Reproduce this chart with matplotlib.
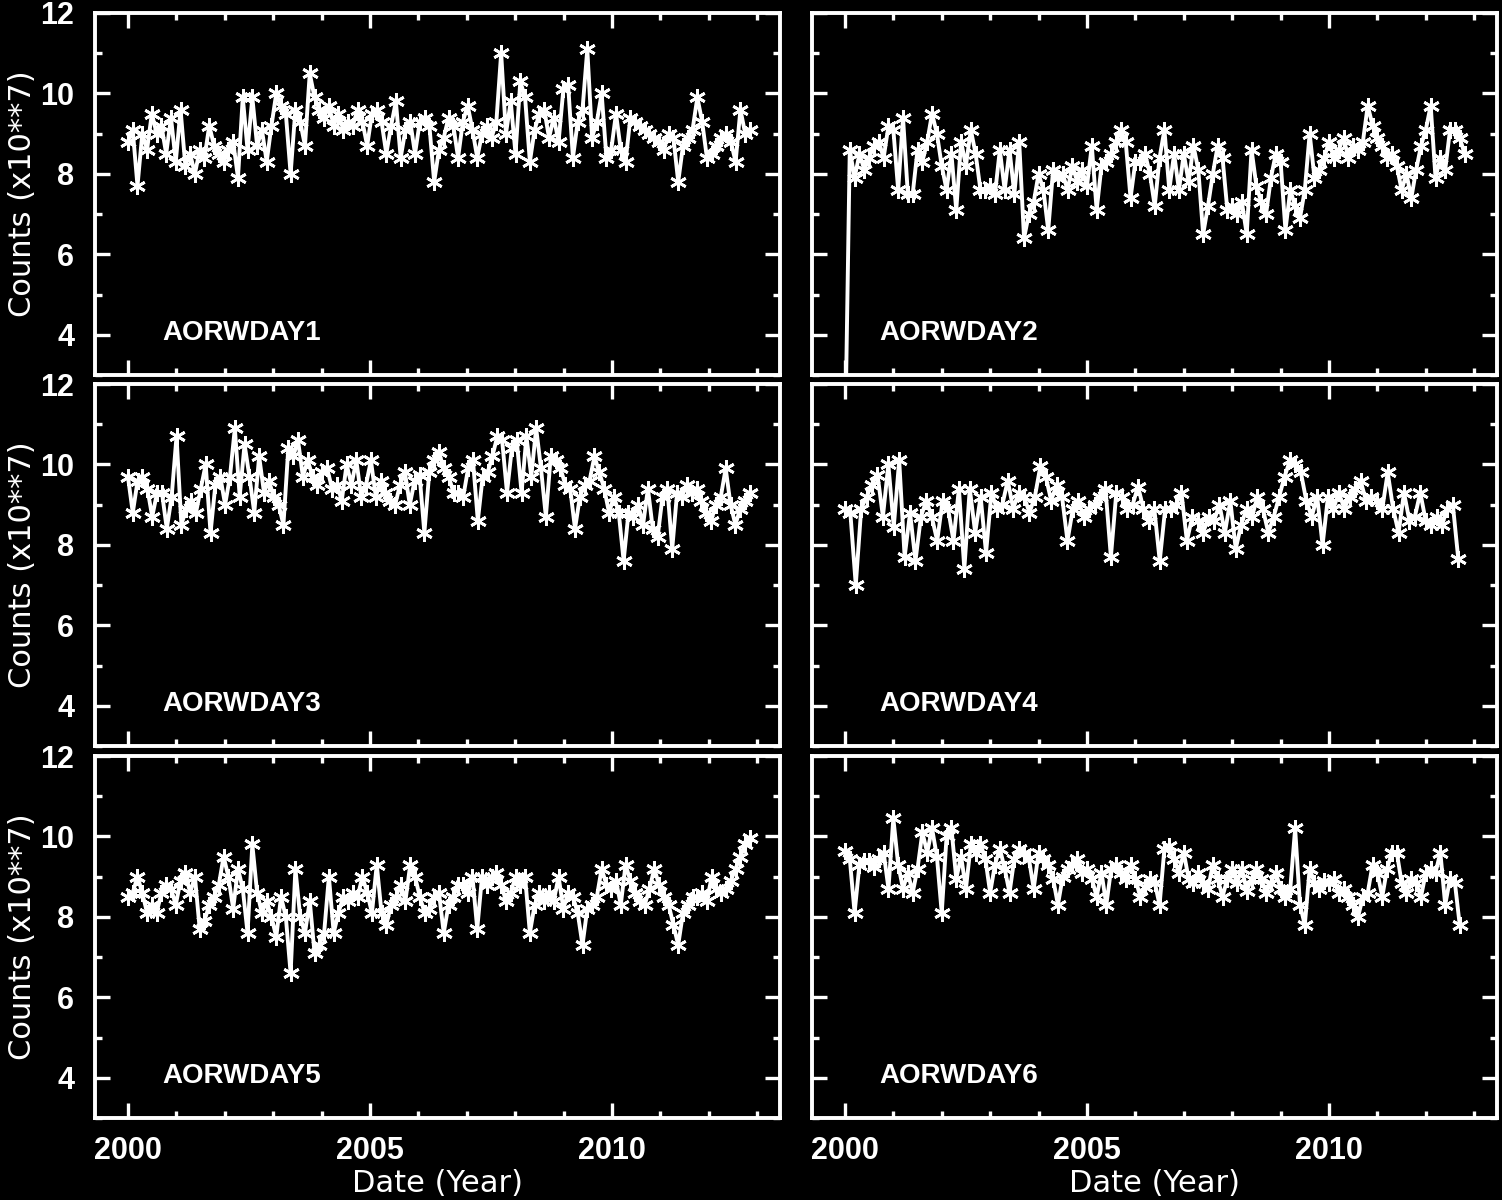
import numpy as np
import matplotlib
matplotlib.use('Agg')
import matplotlib.pyplot as plt
from matplotlib.ticker import MultipleLocator

# counts (x10**7)
names = ['AORWDAY1', 'AORWDAY2', 'AORWDAY3', 'AORWDAY4', 'AORWDAY5', 'AORWDAY6']

aorwday1 = [8.8, 9.1, 7.7, 9.0, 8.6, 9.5, 9.0, 9.2, 8.5, 9.4,
            8.3, 9.6, 8.2, 8.5, 8.0, 8.6, 8.4, 9.2, 8.7, 8.5,
            8.3, 8.6, 8.8, 7.9, 9.9, 8.6, 9.9, 8.7, 9.1, 8.3,
            9.2, 10.0, 9.7, 9.5, 8.0, 9.6, 9.3, 8.7, 10.5, 9.9,
            9.6, 9.4, 9.7, 9.2, 9.5, 9.1, 9.3, 9.2, 9.6, 9.3,
            8.7, 9.5, 9.6, 9.3, 8.5, 9.2, 9.8, 8.4, 9.1, 9.3,
            8.5, 9.3, 9.4, 9.2, 7.8, 8.6, 8.9, 9.4, 9.2, 8.4,
            9.3, 9.7, 9.1, 8.4, 9.0, 9.2, 8.9, 9.3, 11.0, 9.0,
            9.8, 8.5, 10.3, 9.9, 8.3, 9.1, 9.5, 9.6, 8.9, 9.4,
            8.8, 10.1, 10.2, 8.4, 9.3, 9.6, 11.1, 8.9, 9.3, 10.0,
            8.4, 8.6, 9.5, 8.6, 8.3, 9.4, 9.3, 9.2, 9.1, 9.0,
            8.9, 8.8, 8.6, 9.0, 8.9, 7.8, 8.7, 8.9, 9.1, 9.9,
            9.3, 8.4, 8.5, 8.7, 8.9, 9.0, 8.8, 8.3, 9.6, 9.0, 9.1]

aorwday2 = [1.0, 8.6, 7.9, 8.5, 8.1, 8.4, 8.7, 8.8, 8.4, 9.2,
            9.1, 7.6, 9.4, 7.5, 7.5, 8.6, 8.3, 8.8, 9.5, 9.0,
            8.2, 7.6, 8.5, 7.1, 8.8, 8.2, 9.1, 8.5, 7.6, 7.6,
            7.7, 7.5, 8.6, 7.6, 8.6, 7.5, 8.8, 6.4, 7.0, 7.3,
            8.0, 7.6, 6.6, 8.1, 7.9, 8.0, 7.6, 8.2, 7.8, 8.1,
            7.7, 8.7, 7.1, 8.2, 8.3, 8.5, 8.8, 9.1, 8.8, 7.4,
            8.3, 8.3, 8.5, 8.0, 7.2, 8.4, 9.1, 7.6, 8.5, 7.6,
            8.5, 7.8, 8.7, 8.1, 6.5, 7.2, 8.0, 8.7, 8.4, 7.1,
            7.2, 7.0, 7.3, 6.5, 8.6, 7.7, 7.3, 7.0, 7.9, 8.5,
            8.3, 6.6, 7.6, 7.2, 6.9, 7.6, 9.0, 7.9, 8.1, 8.4,
            8.8, 8.4, 8.6, 8.9, 8.4, 8.7, 8.6, 8.8, 9.7, 9.2,
            8.9, 8.7, 8.4, 8.5, 8.2, 7.6, 8.0, 7.4, 8.1, 8.7,
            9.1, 9.7, 7.9, 8.4, 8.1, 9.1, 9.1, 8.9, 8.5]

aorwday3 = [9.7, 8.8, 9.6, 9.7, 9.4, 8.7, 9.3, 9.3, 8.4, 9.2,
            10.7, 8.5, 8.9, 9.1, 8.8, 9.4, 10.0, 8.3, 9.5, 9.7,
            9.0, 9.7, 10.9, 9.2, 10.5, 9.7, 8.8, 10.2, 9.3, 9.6,
            9.2, 9.0, 8.5, 10.4, 10.2, 10.6, 9.7, 10.1, 9.7, 9.5,
            9.8, 9.9, 9.4, 9.5, 9.1, 10.0, 9.5, 10.1, 9.2, 9.5,
            10.1, 9.2, 9.6, 9.3, 9.1, 9.0, 9.5, 9.8, 9.0, 9.6,
            9.75, 8.3, 9.8, 10.1, 10.3, 9.9, 9.7, 9.3, 9.3, 9.2,
            9.9, 10.1, 8.6, 9.7, 9.8, 10.2, 10.7, 10.6, 9.3, 10.4,
            10.6, 9.3, 10.7, 9.7, 10.9, 9.9, 8.7, 10.2, 10.1, 9.9,
            9.5, 9.4, 8.4, 9.2, 9.5, 9.6, 10.2, 9.8, 9.4, 8.8,
            9.2, 8.8, 7.6, 8.8, 8.7, 9.0, 8.5, 9.4, 8.4, 8.2,
            9.2, 9.4, 7.9, 9.3, 9.2, 9.5, 9.3, 9.4, 9.1, 8.8,
            8.6, 9.0, 9.2, 9.9, 9.0, 8.5, 8.9, 9.1, 9.3]

aorwday4 = [8.9, 8.8, 7.0, 8.9, 9.2, 9.5, 9.75, 8.7, 10.0, 8.45,
            10.1, 7.7, 8.8, 7.6, 8.7, 9.1, 8.7, 8.1, 9.1, 8.9,
            8.1, 9.4, 7.4, 9.4, 8.3, 9.2, 7.8, 9.3, 8.9, 9.0,
            9.6, 8.9, 9.3, 9.2, 8.8, 9.2, 9.95, 9.7, 9.1, 9.5,
            9.2, 8.1, 8.9, 9.1, 8.7, 8.9, 9.0, 9.2, 9.4, 7.7,
            9.3, 9.2, 8.9, 9.0, 9.45, 8.9, 8.6, 8.9, 7.6, 8.9,
            8.9, 9.0, 9.3, 8.1, 8.7, 8.6, 8.3, 8.7, 8.6, 9.0,
            8.3, 9.1, 7.9, 8.5, 8.9, 8.7, 9.2, 8.9, 8.3, 8.7,
            9.2, 9.7, 10.1, 10.0, 9.8, 9.1, 8.7, 9.2, 8.0, 9.2,
            8.9, 9.3, 8.9, 9.2, 9.4, 9.6, 9.1, 9.2, 9.1, 8.9,
            9.8, 8.9, 8.3, 9.3, 8.6, 8.7, 9.3, 8.6, 8.5, 8.7,
            8.5, 8.9, 9.0, 7.65]

aorwday5 = [8.5, 8.6, 9.0, 8.6, 8.1, 8.3, 8.1, 8.6, 8.8, 8.7,
            8.3, 8.9, 9.1, 8.6, 9.0, 7.7, 7.9, 8.3, 8.5, 8.8,
            9.5, 9.0, 8.2, 9.2, 8.7, 7.6, 9.8, 8.6, 8.1, 8.4,
            8.0, 7.5, 8.5, 8.0, 6.6, 9.2, 8.0, 7.6, 8.4, 7.1,
            7.3, 7.6, 9.0, 7.6, 8.1, 8.5, 8.4, 8.6, 8.5, 9.0,
            8.6, 8.1, 9.3, 8.1, 7.8, 8.3, 8.5, 8.8, 8.4, 9.3,
            9.0, 8.5, 8.1, 8.2, 8.5, 8.6, 7.6, 8.3, 8.5, 8.8,
            8.8, 8.6, 9.0, 7.7, 9.0, 8.8, 9.0, 9.1, 8.8, 8.4,
            8.6, 9.0, 8.8, 9.0, 7.6, 8.3, 8.6, 8.4, 8.6, 8.4,
            9.0, 8.2, 8.6, 8.5, 8.1, 7.3, 8.2, 8.3, 8.5, 9.2,
            8.8, 8.7, 8.9, 8.3, 9.3, 8.9, 8.6, 8.4, 8.3, 8.7,
            9.2, 8.8, 8.5, 8.3, 7.8, 7.3, 8.1, 8.3, 8.5, 8.5,
            8.6, 8.4, 9.0, 8.7, 8.6, 8.7, 8.9, 9.2, 9.5, 9.8, 9.95]

aorwday6 = [9.65, 9.45, 8.1, 9.3, 9.4, 9.4, 9.25, 9.45, 9.6, 8.7,
            10.45, 9.3, 8.7, 9.1, 8.6, 9.2, 10.1, 9.6, 10.2, 9.5,
            8.1, 10.0, 10.2, 8.95, 9.5, 8.7, 9.8, 9.6, 9.8, 9.45,
            8.6, 9.3, 9.7, 9.2, 8.6, 9.45, 9.7, 9.6, 9.45, 8.7,
            9.6, 9.45, 9.3, 8.95, 8.3, 9.0, 9.2, 9.3, 9.45, 9.1,
            9.2, 8.95, 8.5, 9.1, 8.3, 9.2, 9.3, 9.1, 8.95, 9.3,
            8.95, 8.5, 8.75, 8.95, 8.85, 8.3, 9.7, 9.75, 9.45, 9.1,
            9.6, 8.95, 8.85, 9.1, 8.85, 8.7, 9.3, 8.95, 8.5, 8.95,
            9.2, 8.85, 9.2, 8.65, 8.95, 9.2, 8.95, 8.6, 8.85, 9.1,
            8.7, 8.5, 8.7, 10.2, 8.3, 7.8, 9.2, 8.85, 8.7, 8.9,
            8.85, 8.95, 8.6, 8.7, 8.5, 8.3, 8.0, 8.5, 8.6, 9.3,
            9.1, 8.5, 9.2, 9.6, 9.6, 8.85, 8.6, 8.95, 8.85, 8.5,
            9.1, 9.2, 9.1, 9.6, 8.3, 8.95, 8.85, 7.8]

series = [aorwday1, aorwday2, aorwday3, aorwday4, aorwday5, aorwday6]
first_year = 2000.0
last_years = [2012.85, 2012.8, 2012.85, 2012.67, 2012.85, 2012.7]

plt.rcParams['font.family'] = ['Liberation Sans', 'DejaVu Sans']
plt.rcParams['font.weight'] = 'bold'

W, H = 1502, 1200
fig = plt.figure(figsize=(W / 100, H / 100), dpi=100, facecolor='black')

col_left = [95, 812]
row_top = [13, 384, 756]
ax_w, ax_h = 685, 362

for k, vals in enumerate(series):
    row, col = k // 2, k % 2
    ax = fig.add_axes([col_left[col] / W, 1 - (row_top[row] + ax_h) / H, ax_w / W, ax_h / H])
    ax.set_facecolor('black')

    years = np.linspace(first_year, last_years[k], len(vals))
    ax.plot(years, vals, color='white', lw=2.8, marker=(6, 2, 0), ms=12,
            mew=2.0, mec='white', mfc='white')

    ax.set_xlim(1999.32, 2013.47)
    ax.set_ylim(3, 12)
    ax.xaxis.set_major_locator(MultipleLocator(5))
    ax.xaxis.set_minor_locator(MultipleLocator(1))
    ax.yaxis.set_major_locator(MultipleLocator(2))
    ax.yaxis.set_minor_locator(MultipleLocator(1))

    for s in ax.spines.values():
        s.set_color('white')
        s.set_linewidth(2.8)
    ax.tick_params(which='both', direction='in', top=True, right=True,
                   colors='white', width=2.4, labelsize=22)
    ax.tick_params(which='major', length=11)
    ax.tick_params(which='minor', length=5)
    ax.tick_params(axis='y', pad=15)
    ax.tick_params(axis='x', pad=13)
    ax.tick_params(labelleft=(col == 0), labelbottom=(row == 2))

    if col == 0:
        ax.set_ylabel('Counts (x10**7)', color='white', fontsize=22,
                      family='DejaVu Sans', fontweight='normal', labelpad=2)
    if row == 2:
        ax.set_xlabel('Date (Year)', color='white', fontsize=22,
                      family='DejaVu Sans', fontweight='normal', labelpad=2)

    ax.text(2000.72, 3.87, names[k], color='white', fontsize=20,
            fontweight='bold', ha='left', va='baseline')

fig.savefig('out.png', dpi=100, facecolor='black')
